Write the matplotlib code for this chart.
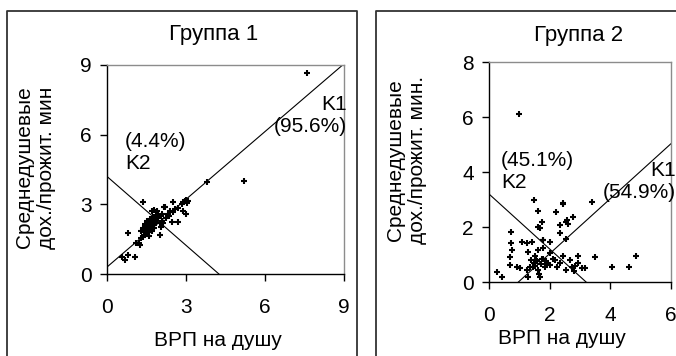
import numpy as np
import matplotlib
matplotlib.use("Agg")
from matplotlib import pyplot as plt
from matplotlib.lines import Line2D

plt.rcParams['font.family'] = ['Liberation Sans', 'DejaVu Sans']

# --- data ---
titles = ["Группа 1", "Группа 2"]
x_label = "ВРП на душу"
y_labels = ["Среднедушевые\nдох./прожит. мин", "Среднедушевые\nдох./прожит. мин."]

# group 1 scatter
g1_x = [0.56, 0.68, 0.80, 1.06, 0.81, 1.10, 1.20, 1.25, 1.28, 1.35, 1.40, 1.45,
        1.30, 1.38, 1.50, 1.55, 1.60, 1.65, 1.70, 1.75, 1.80, 1.85, 1.52, 1.58,
        1.62, 1.68, 1.72, 1.78, 1.82, 1.88, 1.95, 2.00, 2.05, 2.10, 2.00, 2.04,
        2.08, 1.70, 1.80, 1.90, 1.75, 1.85, 2.15, 2.20, 2.30, 2.40, 2.50, 2.46,
        2.71, 2.52, 2.60, 2.70, 2.85, 2.90, 2.95, 3.00, 3.05, 3.08, 2.90, 3.00,
        1.38, 1.45, 1.60, 1.50, 1.95, 2.25, 2.35, 1.42, 1.65, 2.12,
        3.80, 5.20, 7.60]
g1_y = [0.75, 0.60, 0.80, 0.75, 1.75, 1.35, 1.35, 1.25, 1.55, 1.60, 1.70, 1.80,
        1.85, 2.00, 1.75, 1.90, 1.95, 2.05, 1.85, 2.10, 2.00, 2.20, 2.05, 1.80,
        2.15, 2.25, 2.00, 2.35, 2.30, 2.45, 2.40, 2.20, 2.50, 2.30, 1.68, 2.04,
        2.60, 2.72, 2.75, 2.70, 2.45, 2.55, 2.88, 2.88, 2.60, 2.70, 2.65, 2.25,
        2.25, 3.11, 2.80, 2.85, 3.00, 3.10, 3.15, 3.20, 3.05, 3.15, 2.70, 2.60,
        3.11, 2.15, 1.65, 2.30, 2.55, 2.40, 2.50, 1.90, 2.35, 2.20,
        3.95, 4.00, 8.65]

# group 2 scatter
g2_x = [1.00, 1.49, 1.60, 2.43, 2.21, 2.76, 2.53, 2.60, 2.45, 3.39, 1.63, 1.74,
        1.68, 1.79, 2.34, 2.57, 2.34, 2.53, 0.73, 0.73, 0.75, 0.69, 1.08, 1.25,
        1.41, 1.79, 2.01, 1.30, 1.63, 1.79, 2.00, 0.69, 0.91, 1.02, 0.25, 0.42,
        1.25, 1.36, 1.47, 1.55, 1.63, 1.68, 1.30, 1.85, 1.92, 2.00, 1.79, 2.17,
        2.34, 2.45, 2.67, 2.73, 2.95, 2.95, 3.06, 3.17, 3.50, 4.05, 4.60, 4.84,
        1.40, 1.50, 1.58, 1.70, 1.75, 1.45, 1.52, 1.88, 2.10, 2.25, 2.55, 2.85,
        1.66, 2.80]
g2_y = [6.10, 2.98, 2.60, 2.83, 2.53, 2.37, 2.20, 2.10, 2.86, 2.92, 2.01, 2.20,
        1.95, 1.53, 1.77, 2.25, 2.07, 1.55, 1.83, 1.41, 1.16, 0.92, 1.47, 1.43,
        1.47, 1.53, 1.47, 1.10, 1.16, 1.22, 1.04, 0.62, 0.56, 0.50, 0.38, 0.19,
        0.45, 0.56, 0.69, 0.80, 0.45, 0.19, 0.19, 0.55, 0.70, 0.62, 0.85, 0.79,
        0.69, 0.94, 0.79, 0.56, 0.94, 0.69, 0.50, 0.50, 0.90, 0.53, 0.53, 0.95,
        0.80, 0.60, 0.75, 0.65, 0.85, 0.55, 0.95, 0.75, 0.85, 0.55, 0.45, 0.60,
        0.30, 0.40]

# component lines (x pair, y pair)
g1_k1 = ([0, 9], [0.30, 9.05])
g1_k2 = ([0, 4.25], [4.2, 0])
g2_k1 = ([0.97, 6], [0, 5.03])
g2_k2 = ([0, 3.2], [3.2, 0])

g1_notes = ["(4.4%)\nK2", "K1\n(95.6%)"]
g2_notes = ["(45.1%)\nK2", "K1\n(54.9%)"]

W, H = 676, 356
fig = plt.figure(figsize=(W / 100, H / 100), dpi=100)


def px_rect(x0, y0, x1, y1):
  # pixel box (top-left origin) -> figure fraction [l, b, w, h]
  return [x0 / W, 1 - y1 / H, (x1 - x0) / W, (y1 - y0) / H]


def frame(x0, x1, top):
  xs = [x0 / W, x0 / W, x1 / W, x1 / W]
  ys = [0, 1 - top / H, 1 - top / H, 0]
  fig.add_artist(Line2D(xs, ys, color='#333333', lw=1.3))


frame(7, 357, 11)
frame(376, 690, 11)

FS = 15


def style(ax, xmax, ymax, step_x, step_y):
  ax.set_xlim(0, xmax)
  ax.set_ylim(0, ymax)
  ax.set_xticks(np.arange(0, xmax + 0.01, step_x))
  ax.set_yticks(np.arange(0, ymax + 0.01, step_y))
  for s in ['left', 'bottom']:
    ax.spines[s].set_color('black')
    ax.spines[s].set_linewidth(1.0)
  for s in ['top', 'right']:
    ax.spines[s].set_color('#8c8c8c')
    ax.spines[s].set_linewidth(1.0)
  ax.tick_params(direction='out', length=5, width=1, labelsize=FS)
  ax.tick_params(axis='x', pad=12)
  ax.tick_params(axis='y', pad=6)
  ax.set_facecolor('white')


# group 1
ax1 = fig.add_axes(px_rect(107, 65, 344, 274))
style(ax1, 9, 9, 3, 3)
ax1.plot(*g1_k1, color='black', lw=0.8)
ax1.plot(*g1_k2, color='black', lw=0.8)
ax1.plot(g1_x, g1_y, '+', color='black', ms=5, mew=1.5)
ax1.text(0.68, 6.1, g1_notes[0], fontsize=FS, va='top', ha='left')
ax1.text(9.1, 7.7, g1_notes[1], fontsize=FS, va='top', ha='right', clip_on=False)
ax1.text(0.45, 1.145, titles[0], transform=ax1.transAxes, fontsize=16,
         ha='center', va='center')
ax1.set_xlabel(x_label, fontsize=FS)
ax1.xaxis.label.set_va('center')
ax1.xaxis.set_label_coords(0.47, -0.32)
ax1.set_ylabel(y_labels[0], fontsize=FS)
ax1.yaxis.label.set_va('center')
ax1.yaxis.set_label_coords(-0.30, 0.51)

# group 2
ax2 = fig.add_axes(px_rect(489, 62, 671, 282))
style(ax2, 6, 8, 2, 2)
ax2.plot(*g2_k1, color='black', lw=0.8)
ax2.plot(*g2_k2, color='black', lw=0.8)
ax2.plot(g2_x, g2_y, '+', color='black', ms=5, mew=1.5)
ax2.text(0.4, 4.75, g2_notes[0], fontsize=FS, va='top', ha='left')
ax2.text(6.15, 4.4, g2_notes[1], fontsize=FS, va='top', ha='right', clip_on=False)
ax2.text(0.49, 1.12, titles[1], transform=ax2.transAxes, fontsize=16,
         ha='center', va='center')
ax2.set_xlabel(x_label, fontsize=FS)
ax2.xaxis.label.set_va('center')
ax2.xaxis.set_label_coords(0.40, -0.255)
ax2.set_ylabel(y_labels[1], fontsize=FS)
ax2.yaxis.label.set_va('center')
ax2.yaxis.set_label_coords(-0.456, 0.555)

fig.savefig("out.png", dpi=100, facecolor='white')
